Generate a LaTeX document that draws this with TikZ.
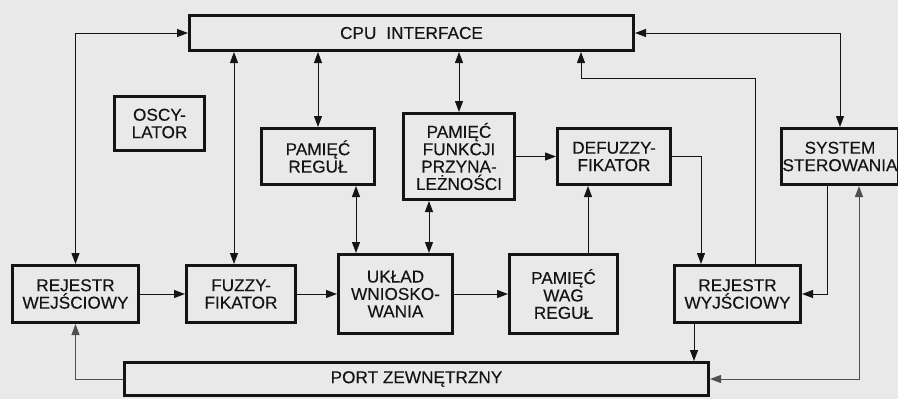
\documentclass[tikz,border=0pt]{standalone}
\usepackage{fontspec}
\setmainfont{Liberation Sans}[FakeBold=0.2]
\usetikzlibrary{arrows.meta}
\definecolor{bg}{RGB}{233,233,233}
\definecolor{ink}{RGB}{20,20,20}
\begin{document}
\begin{tikzpicture}[x=1pt,y=-1pt,
  >={Triangle[length=11pt,width=8pt]},
  box/.style={draw=ink,line width=3pt,align=center,inner sep=0pt,text=ink,
    font=\fontsize{17.2}{17.4}\selectfont},
  conn/.style={draw=ink,line width=1pt},
  connG/.style={draw=ink!75,line width=1pt}]
\useasboundingbox (0,0) rectangle (898,399);
\fill[bg] (0,0) rectangle (898,399);
\clip (0,0) rectangle (898,399);

% boxes
\node[box,minimum width=444,minimum height=35] (cpu) at (411.5,33) {CPU\hspace{10pt}INTERFACE};
\node[box,minimum width=90,minimum height=54] (osc) at (159.5,123.5) {OSCY-\\LATOR};
\node[box,minimum width=113,minimum height=56] (preg) at (318,156.5) {PAMIĘĆ\\REGUŁ};
\node[box,minimum width=111,minimum height=86] (pfun) at (459,156.5) {PAMIĘĆ\\FUNKCJI\\PRZYNA-\\LEŻNOŚCI};
\node[box,minimum width=113,minimum height=56] (defz) at (614,156.5) {DEFUZZY-\\FIKATOR};
\node[box,minimum width=117,minimum height=56] (sys) at (840,156.5) {SYSTEM\\STEROWANIA};
\node[box,minimum width=126,minimum height=57] (rwe) at (75.5,294) {REJESTR\\WEJŚCIOWY};
\node[box,minimum width=109,minimum height=57] (fuz) at (241,294) {FUZZY-\\FIKATOR};
\node[box,minimum width=114,minimum height=79] (ukl) at (395.5,294) {UKŁAD\\WNIOSKO-\\WANIA};
\node[box,minimum width=108,minimum height=79] (wag) at (563.5,294) {PAMIĘĆ\\WAG\\REGUŁ};
\node[box,minimum width=126,minimum height=57] (rwy) at (737.5,294) {REJESTR\\WYJŚCIOWY};
\node[box,minimum width=584,minimum height=33] (port) at (416.5,379) {PORT ZEWNĘTRZNY};

% helper coordinates
\coordinate (xb) at (234,0);
\coordinate (xc) at (356,0);
\coordinate (xd) at (429,0);
\coordinate (xe) at (588,0);
\coordinate (xf) at (701,0);
\coordinate (k1) at (755,78);
\coordinate (k2) at (581,78);
\coordinate (xj) at (827,0);
\coordinate (xk) at (859,0);
\coordinate (xl) at (694,0);

% connectors
\draw[conn,<->] (rwe.north) |- (cpu.west);
\draw[conn,<->] (fuz.north -| xb) -- (cpu.south -| xb);
\draw[conn,<->] (preg.north) -- (cpu.south -| preg.north);
\draw[conn,<->] (preg.south -| xc) -- (ukl.north -| xc);
\draw[conn,<->] (pfun.north) -- (cpu.south -| pfun.north);
\draw[conn,<->] (pfun.south -| xd) -- (ukl.north -| xd);
\draw[conn,->] (pfun.east) -- (defz.west);
\draw[conn,->] (wag.north -| xe) -- (defz.south -| xe);
\draw[conn,->] (defz.east) -| (rwy.north -| xf);
\draw[conn,->] (rwy.north -| k1) -- (k1) -- (k2) -- (cpu.south -| k2);
\draw[conn,<->] (cpu.east) -| (sys.north);
\draw[conn,->] (sys.south -| xj) |- (rwy.east);
\draw[connG,<->] (sys.south -| xk) |- (port.east);
\draw[conn,->] (rwy.south -| xl) -- (port.north -| xl);
\draw[connG,->] (port.west) -| (rwe.south);
\draw[conn,->] (rwe.east) -- (fuz.west);
\draw[conn,->] (fuz.east) -- (ukl.west);
\draw[conn,->] (ukl.east) -- (wag.west);
\end{tikzpicture}
\end{document}
